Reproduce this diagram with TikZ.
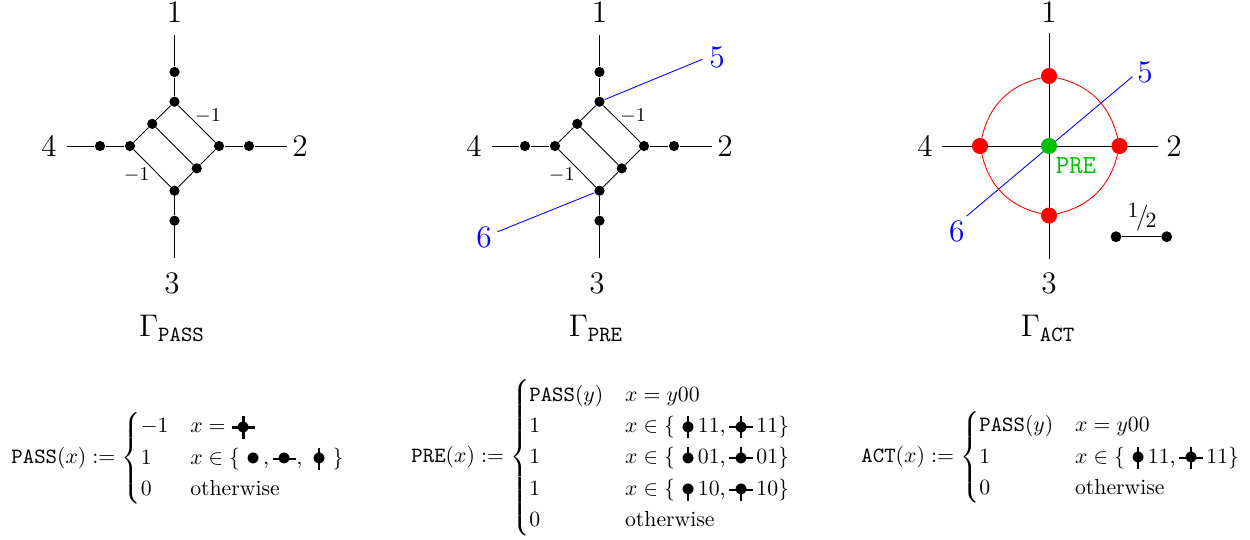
\documentclass[tikz,border=0pt]{standalone}
\usepackage{amsmath}
\definecolor{myred}{RGB}{255,0,0}
\definecolor{mygreen}{RGB}{0,190,0}
\definecolor{myblue}{RGB}{0,0,255}
% small inline glyph: #1 horizontal stubs, #2 up stub, #3 down stub
\newlength\glw
\newcommand\gly[3]{\ifnum#1=1 \glw=10.8pt\else\glw=5.6pt\fi
\mbox{%
\makebox[0pt][l]{\ifnum#1=1 \rule[2.0pt]{\glw}{1pt}\fi}%
\makebox[0pt][l]{\hspace{0.5\glw}\hspace{-0.5pt}\ifnum#2=1 \rule[2.5pt]{1pt}{5.2pt}\fi}%
\makebox[0pt][l]{\hspace{0.5\glw}\hspace{-0.5pt}\ifnum#3=1 \rule[-2.7pt]{1pt}{5.2pt}\fi}%
\makebox[\glw]{\raisebox{-0.75pt}{\scalebox{1.3}{$\bullet$}}}}}
\newcommand\halffrac{\raisebox{.55ex}{\normalsize 1}\kern-.1em/\kern-.12em\raisebox{-.3ex}{\normalsize 2}}
\newcommand\diagraph[1]{%
 \coordinate (#1n) at (174.5,35);
 \coordinate (#1w) at (66.7,146);
 \coordinate (#1e) at (286.7,146);
 \coordinate (#1s) at (174.5,258);
 \node[dot] (#1v1) at (174.5,72) {};
 \node[dot] (#1t) at (174.5,101.7) {};
 \node[dot] (#1ul) at (152.25,123.85) {};
 \node[dot] (#1l) at (130,146) {};
 \node[dot] (#1ll) at (100,146) {};
 \node[dot] (#1r) at (219,146) {};
 \node[dot] (#1rr) at (249,146) {};
 \node[dot] (#1lr) at (196.75,168.35) {};
 \node[dot] (#1b) at (174.5,190.7) {};
 \node[dot] (#1bb) at (174.5,220.7) {};
 \draw (#1n) -- (#1v1) -- (#1t);
 \draw (#1t) -- (#1ul) -- (#1l);
 \draw (#1t) -- (#1r);
 \draw (#1l) -- (#1b);
 \draw (#1r) -- (#1lr) -- (#1b);
 \draw (#1ul) -- (#1lr);
 \draw (#1w) -- (#1ll) -- (#1l);
 \draw (#1r) -- (#1rr) -- (#1e);
 \draw (#1b) -- (#1bb) -- (#1s);
 \node[lab] (#1L1) at (174.5,12) {1};
 \node[lab] (#1L2) at (300,146) {2};
 \node[lab] (#1L3) at (172,283) {3};
 \node[lab] (#1L4) at (49,146) {4};
 \node[wt] (#1wa) at (208,115.7) {$-1$};
 \node[wt] (#1wb) at (136.7,175) {$-1$};
}
\begin{document}
\begin{tikzpicture}[x=0.46pt,y=-0.46pt,
  dot/.style={circle,fill=black,inner sep=0pt,minimum size=4.7pt},
  bigdot/.style={circle,inner sep=0pt,minimum size=7.4pt},
  smalldot/.style={circle,fill=black,inner sep=0pt,minimum size=5pt},
  lab/.style={font=\Large,inner sep=1pt},
  wt/.style={font=\small,inner sep=1pt},
  gam/.style={font=\Large},
  formula/.style={anchor=west,inner sep=0pt}]
\useasboundingbox (0,0) rectangle (1250,539);
% panel 1
\diagraph{a}
\node[gam] (ga) at (172,328) {$\Gamma_{\mathtt{PASS}}$};
% panel 2
\begin{scope}[shift={(425,0)}]
\diagraph{b}
\coordinate (b5) at (277.3,59.3);
\coordinate (b6) at (72.7,231.7);
\draw[myblue] (bt) -- (b5);
\draw[myblue] (bb) -- (b6);
\node[lab,text=myblue] (bL5) at (292,57) {5};
\node[lab,text=myblue] (bL6) at (59,237) {6};
\end{scope}
\node[gam] (gb) at (596,328) {$\Gamma_{\mathtt{PRE}}$};
% panel 3
\coordinate (cn) at (1049,33.3);
\coordinate (cs) at (1049,259.3);
\coordinate (cw) at (942.3,146);
\coordinate (ce) at (1158.3,146);
\coordinate (c5) at (1132.3,76.7);
\coordinate (c6) at (966.7,216);
\draw (cn) -- (cs);
\draw (cw) -- (ce);
\draw[myblue] (c6) -- (c5);
\node[bigdot,fill=myred] (rN) at (1049,76) {};
\node[bigdot,fill=myred] (rE) at (1119.5,146) {};
\node[bigdot,fill=myred] (rS) at (1049,215.5) {};
\node[bigdot,fill=myred] (rW) at (980,146) {};
\draw[myred] (rN) to[bend left=32] (rE);
\draw[myred] (rE) to[bend left=32] (rS);
\draw[myred] (rS) to[bend left=32] (rW);
\draw[myred] (rW) to[bend left=32] (rN);
\node[bigdot,fill=mygreen] (cc) at (1049,146) {};
\node[font=\large\ttfamily,text=mygreen,inner sep=1pt] (pre) at (1076,166) {PRE};
\node[lab] (cL1) at (1049,12) {1};
\node[lab] (cL2) at (1174,146) {2};
\node[lab] (cL3) at (1049,283) {3};
\node[lab] (cL4) at (925,146) {4};
\node[lab,text=myblue] (cL5) at (1145,72) {5};
\node[lab,text=myblue] (cL6) at (956.7,231) {6};
\node[smalldot] (h1) at (1116,236.7) {};
\node[smalldot] (h2) at (1166.7,236.7) {};
\draw (h1) -- (h2);
\node[font=\large,inner sep=1pt] (hl) at (1142,217) {\halffrac};
\node[gam] (gc) at (1048,328) {$\Gamma_{\mathtt{ACT}}$};
% formulas
\node[formula] (fpass) at (11,458) {$\texttt{PASS}(x) := \begin{cases} -1 & x = \gly111 \\ 1 & x \in \{\ \gly000\,,\gly100,\ \gly011\ \} \\ 0 & \text{otherwise} \end{cases}$};
\node[formula] (fpre) at (411,457.5) {$\texttt{PRE}(x) := \begin{cases} \texttt{PASS}(y) & x = y00 \\ 1 & x \in \{\ \gly011\,11,\gly111\,11\} \\ 1 & x \in \{\ \gly010\,01,\gly110\,01\} \\ 1 & x \in \{\ \gly001\,10,\gly101\,10\} \\ 0 & \text{otherwise} \end{cases}$};
\node[formula] (fact) at (861,457) {$\texttt{ACT}(x) := \begin{cases} \texttt{PASS}(y) & x = y00 \\ 1 & x \in \{\ \gly011\,11,\gly111\,11\} \\ 0 & \text{otherwise} \end{cases}$};
\end{tikzpicture}
\end{document}
